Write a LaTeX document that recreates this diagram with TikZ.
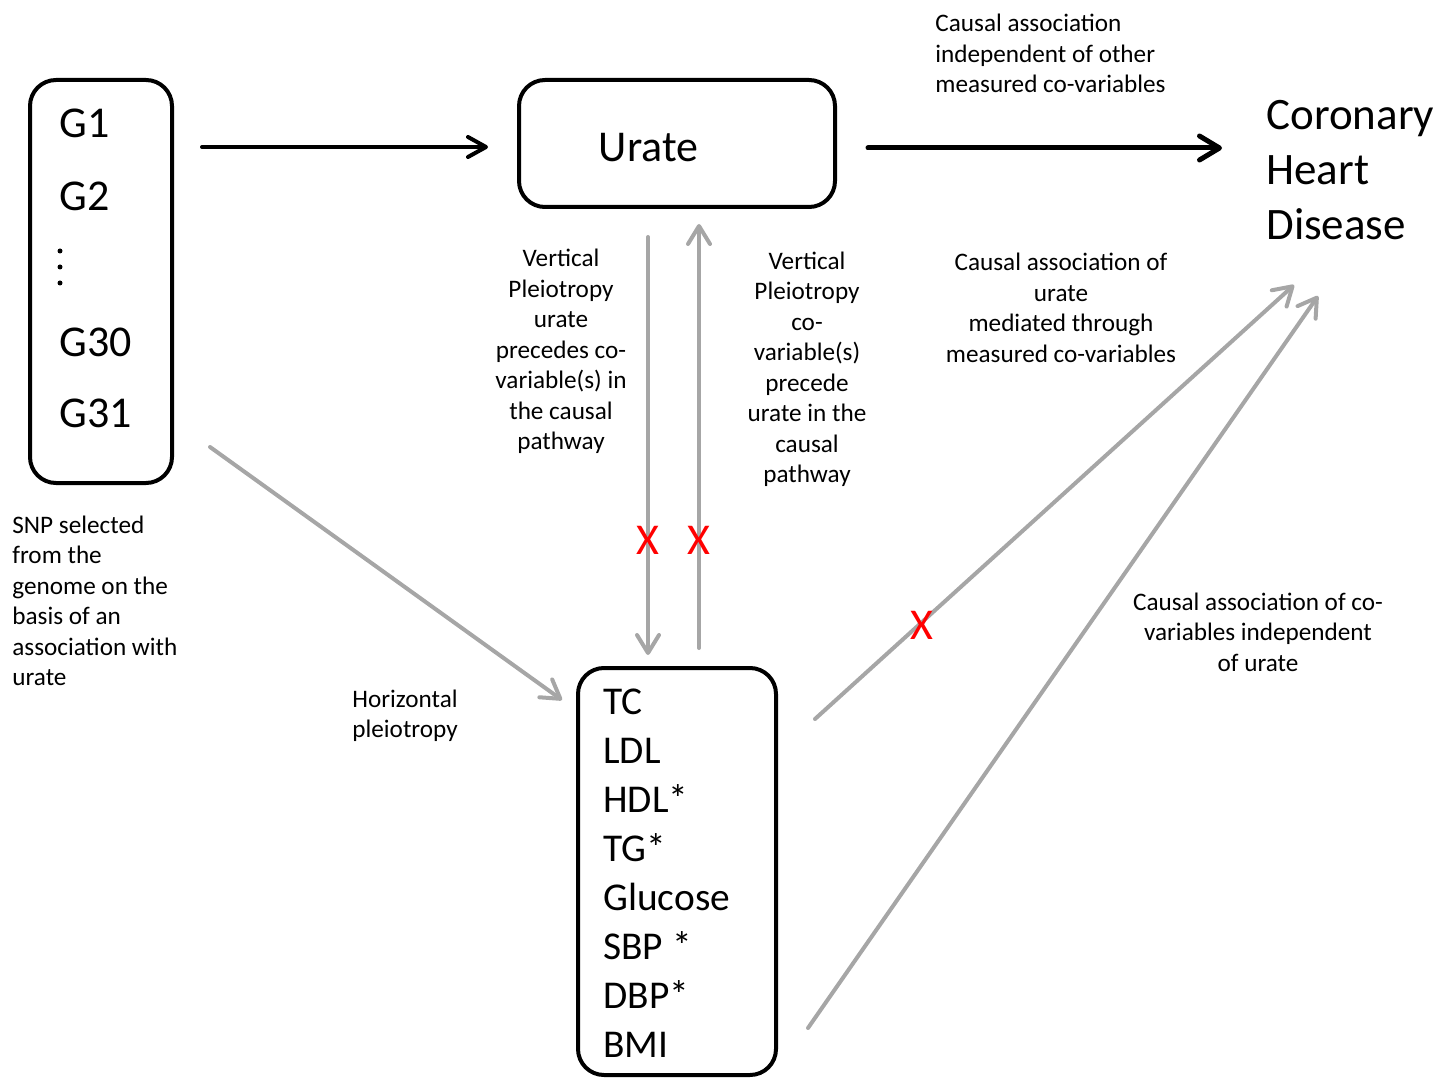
\documentclass[tikz,border=0pt]{standalone}
\usepackage{fontspec}
\setmainfont{Carlito}
\usetikzlibrary{arrows.meta}
\definecolor{pathgray}{RGB}{166,166,166}
\definecolor{crossred}{RGB}{255,0,0}

\begin{document}
\begin{tikzpicture}[x=0.5pt,y=-0.5pt,line cap=round,
  roundbox/.style={draw,line width=2pt,rounded corners=13pt,inner sep=0pt},
  smalltxt/.style={font=\fontsize{12.6}{15.25}\selectfont,inner sep=0pt},
  listtxt/.style={font=\fontsize{19.7}{24.5}\selectfont,inner sep=0pt,anchor=base west},
  bigtxt/.style={font=\fontsize{22}{27.5}\selectfont,inner sep=0pt},
  mainarrow/.style={-{Straight Barb[length=9pt,width=10pt,round]},line width=2pt},
  grayarrow/.style={-{Straight Barb[length=9pt,width=11pt,round]},line width=2pt,pathgray},
  crossmark/.style={text=crossred,font=\fontsize{22}{26}\selectfont,inner sep=0pt}]
\useasboundingbox (0,0) rectangle (1438,1079);

% boxes
\node[roundbox,minimum width=71pt,minimum height=201.5pt] (genes) at (101,281.5) {};
\node[roundbox,minimum width=158pt,minimum height=63.5pt] (urate) at (677,143.5) {};
\node[roundbox,minimum width=99pt,minimum height=203.5pt] (covars) at (677,871.5) {};

% genetic variants
\node[bigtxt,anchor=base west] (g1) at (59,138) {G1};
\node[bigtxt,anchor=base west] (g2) at (59,211) {G2};
\node[bigtxt,anchor=base west] (g30) at (59,357) {G30};
\node[bigtxt,anchor=base west] (g31) at (59,428) {G31};
\foreach \dy in {251,267,283}
  \fill (60,\dy) circle (2.5);

\node[bigtxt,anchor=base] (urate-txt) at (648.5,162) {Urate};
% base = last line
\node[bigtxt,anchor=base west,align=left,font=\fontsize{22.5}{27.5}\selectfont] (chd) at (1266,240) {Coronary\\Heart\\Disease};

% co-variables
\foreach \cv [count=\i from 0] in {TC,LDL,HDL*,TG*,Glucose,SBP *,DBP*,BMI}
  \node[listtxt] (cv\i) at (603,{714+49*\i}) {\cv};

% labels (anchored on their last line)
\node[smalltxt,anchor=base west,align=left] (direct-lbl) at (935,93) {Causal association\\independent of other\\measured co-variables};
\node[smalltxt,anchor=base,align=center] (vdown-lbl) at (561,450) {Vertical\\Pleiotropy\\urate\\precedes co-\\variable(s) in\\the causal\\pathway};
\node[smalltxt,anchor=base,align=center] (vup-lbl) at (807,482.5) {Vertical\\Pleiotropy\\co-\\variable(s)\\precede\\urate in the\\causal\\pathway};
\node[smalltxt,anchor=base,align=center] (med-lbl) at (1061,362.5) {Causal association of\\urate\\mediated through\\measured co-variables};
\node[smalltxt,anchor=base,align=center] (indep-lbl) at (1258,671) {Causal association of co-\\variables independent\\of urate};
\node[smalltxt,anchor=base west,align=left] (snp-lbl) at (12,685.5) {SNP selected\\from the\\genome on the\\basis of an\\association with\\urate};
\node[smalltxt,anchor=base west,align=left] (horiz-lbl) at (352,737.5) {Horizontal\\pleiotropy};

% arrow ends
\coordinate (g-out) at (202,147);
\coordinate (u-in) at (488,147);
\coordinate (u-out) at (868,148);
\coordinate (chd-in) at (1222,148);
\coordinate (g-low) at (210,447);
\coordinate (cv-in) at (562,700);
\coordinate (u-down) at (648,237);
\coordinate (cv-top) at (648,655);
\coordinate (cv-up) at (699,648);
\coordinate (u-bot) at (699,224);
\coordinate (cv-med) at (815,719);
\coordinate (chd-med) at (1294,285);
\coordinate (cv-ind) at (808,1028);
\coordinate (chd-ind) at (1318,296);

\draw[mainarrow] (g-out) -- (u-in);
\draw[-{Straight Barb[length=10pt,width=12pt,round]},line width=2.5pt] (u-out) -- (chd-in);
\draw[grayarrow] (g-low) -- (cv-in);
\draw[grayarrow] (u-down) -- (cv-top);
\draw[grayarrow] (cv-up) -- (u-bot);
\draw[grayarrow] (cv-med) -- (chd-med);
\draw[grayarrow] (cv-ind) -- (chd-ind);

% blocked paths
\node[crossmark] (x-down) at (648,540) {X};
\node[crossmark] (x-up) at (699,540) {X};
\node[crossmark] (x-med) at (922,625) {X};
\end{tikzpicture}
\end{document}
